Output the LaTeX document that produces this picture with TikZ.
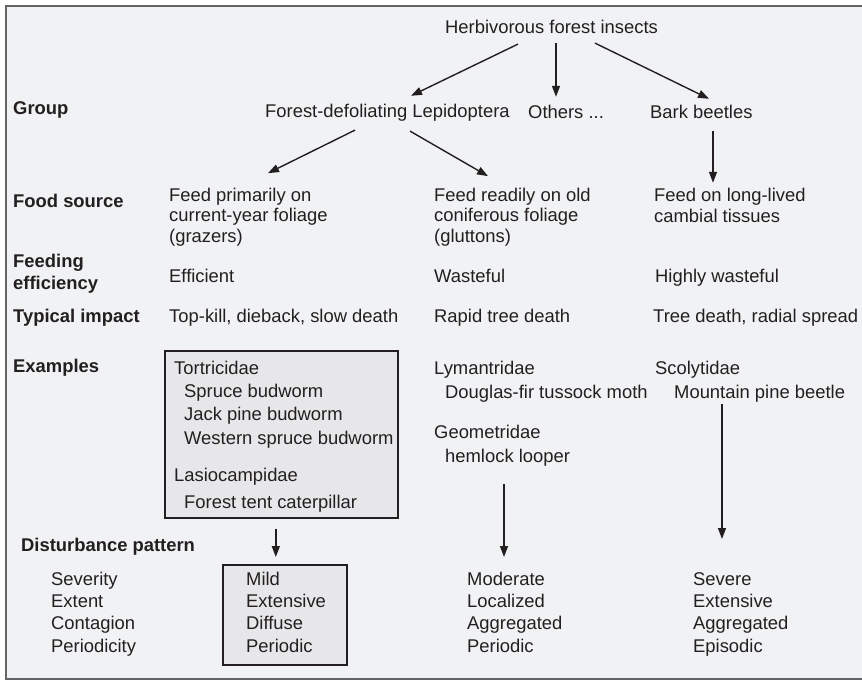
\documentclass[tikz,border=0pt]{standalone}
\usepackage{fontspec}
\setmainfont{Liberation Sans}
\usetikzlibrary{arrows.meta,calc}
\definecolor{ink}{RGB}{35,31,32}
\definecolor{paper}{RGB}{241,242,244}
\definecolor{boxgray}{RGB}{231,231,233}
\definecolor{framegray}{RGB}{100,100,102}

\begin{document}
\begin{tikzpicture}[x=1pt,y=-1pt,
  every node/.style={inner sep=0pt,text=ink},
  lead/.style={font=\fontsize{18.4}{#1}\selectfont},
  txt/.style={anchor=base west,lead=21,text height=13.5pt,text depth=3.9pt},
  hd/.style={txt,font=\fontsize{18.4}{21}\selectfont\bfseries},
  blk/.style={anchor=north west,align=left,lead=#1},
  box/.style={draw=ink,line width=1.6pt,fill=boxgray,anchor=north west},
  arr/.style={-{Triangle[length=11pt,width=8pt]},line width=1.4pt,draw=ink}
]
\useasboundingbox (0,0) rectangle (862,680);
\fill[paper] (6,6) rectangle (862,679);
\draw[framegray,line width=1.5pt] (862,6) -- (6,6) -- (6,679) -- (862,679);

%% ── Row labels (left column) ────────────────────────────────────────────────
\node[hd] (lgroup) at (13,114) {Group};
\node[hd] (lfood)  at (13,207) {Food source};
\node[anchor=north west,align=left,font=\fontsize{18.4}{22}\selectfont\bfseries]
  (leff) at (13,251.6) {\strut Feeding\\efficiency};
\node[hd] (limp)   at (13,322) {Typical impact};
\node[hd] (lex)    at (13,372) {Examples};
\node[hd] (ldist)  at (21,551) {Disturbance pattern};
\node[blk=22.33] (ldlist) at (51,569.4) {\strut Severity\\Extent\\Contagion\\Periodicity};

%% ── Tree: root and groups ───────────────────────────────────────────────────
\node[txt] (herb) at (445,33)  {Herbivorous forest insects};
\node[txt] (lep)  at (265,117) {Forest-defoliating Lepidoptera};
\node[txt] (oth)  at (528,118) {Others ...};
\node[txt] (bark) at (650,118) {Bark beetles};

%% ── Food source, efficiency, impact ─────────────────────────────────────────
\node[blk=20.5] (graz) at (169,186.65) {\strut Feed primarily on\\current-year foliage\\(grazers)};
\node[blk=20.5] (glut) at (434,186.65) {\strut Feed readily on old\\coniferous foliage\\(gluttons)};
\node[blk=21]   (camb) at (654,186.3)  {\strut Feed on long-lived\\cambial tissues};

\node[txt] (eff1) at (169,282) {Efficient};
\node[txt] (eff2) at (434,282) {Wasteful};
\node[txt] (eff3) at (655,282) {Highly wasteful};

\node[txt] (imp1) at (169,322) {Top-kill, dieback, slow death};
\node[txt] (imp2) at (434,322) {Rapid tree death};
\node[txt] (imp3) at (653,322) {Tree death, radial spread};

%% ── Examples ────────────────────────────────────────────────────────────────
\node[box,minimum width=233pt,minimum height=167pt] (tbox) at (164,350) {};
\node[blk=23.3] (tort) at (174,357.7) {\strut Tortricidae\\
  \hspace*{10pt}Spruce budworm\\\hspace*{10pt}Jack pine budworm\\
  \hspace*{10pt}Western spruce budworm};
\node[blk=27] (lasio) at (174,462.1) {\strut Lasiocampidae\\\hspace*{10pt}Forest tent caterpillar};

\node[blk=24] (lym)  at (434,357.2) {\strut Lymantridae\\\hspace*{11pt}Douglas-fir tussock moth};
\node[blk=24] (geo)  at (434,421.2) {\strut Geometridae\\\hspace*{11pt}hemlock looper};
\node[blk=24] (scol) at (655,357.2) {\strut Scolytidae\\\hspace*{19pt}Mountain pine beetle};

%% ── Disturbance pattern ─────────────────────────────────────────────────────
\node[box,minimum width=124pt,minimum height=100pt] (dbox) at (222,564) {};
\node[blk=22.33] (mild) at (246,569.4) {\strut Mild\\Extensive\\Diffuse\\Periodic};
\node[blk=22.33] (mod)  at (467,569.4) {\strut Moderate\\Localized\\Aggregated\\Periodic};
\node[blk=22.33] (sev)  at (693,569.4) {\strut Severe\\Extensive\\Aggregated\\Episodic};

%% ── Arrows ──────────────────────────────────────────────────────────────────
\draw[arr] ($(herb.south west)+(73,7)$)  -- ($(lep.north west)+(146,-7.5)$);
\draw[arr] ($(herb.south west)+(111,6)$) -- ($(oth.north west)+(28,-7.5)$);
\draw[arr] ($(herb.south west)+(150,6)$) -- ($(bark.north west)+(59,-5.5)$);

\draw[arr] ($(lep.south west)+(90,9)$)   -- ($(graz.north west)+(99,-13.5)$);
\draw[arr] ($(lep.south west)+(145,10)$) -- ($(glut.north west)+(54,-10.5)$);
\draw[arr] ($(bark.south west)+(63,9)$)  -- ($(camb.north west)+(59,-3.5)$);

\draw[arr] ($(tbox.south)+(-5.5,10)$) -- ($(dbox.north)+(-9,-7)$);
\draw[arr] ($(geo.south west)+(70,18)$) -- ($(mod.north west)+(37,-12.4)$);
\draw[arr] ($(scol.south west)+(67,2)$) -- ($(sev.north west)+(29,-30.4)$);
\end{tikzpicture}
\end{document}
